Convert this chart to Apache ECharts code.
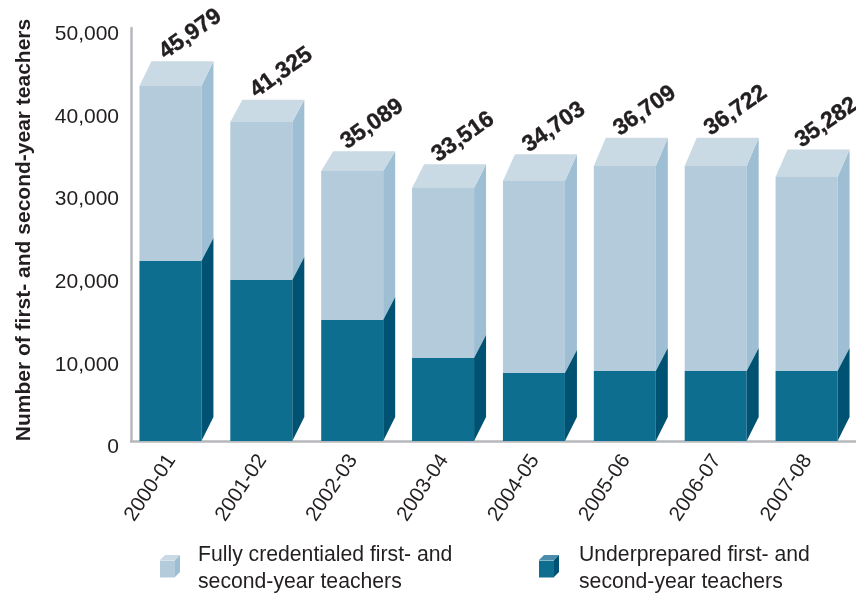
<!DOCTYPE html>
<html>
<head>
<meta charset="utf-8">
<style>
  html, body { margin: 0; padding: 0; background: #fff; }
  #chart { width: 856px; height: 595px; }
</style>
<script src="https://cdn.jsdelivr.net/npm/echarts@6/dist/echarts.min.js"></script>
</head>
<body>
<div id="chart"></div>
<script>
var years = ['2000-01', '2001-02', '2002-03', '2003-04', '2004-05', '2005-06', '2006-07', '2007-08'];
// printed totals, these sit on the back edge of each box
var totals = [45979, 41325, 35089, 33516, 34703, 36709, 36722, 35282];
// front face heights as read against the axis
var underprepared = [21800, 19500, 14650, 10050, 8230, 8470, 8470, 8470];
var credentialed = [21190, 19130, 18040, 20580, 23240, 24820, 24820, 23490];

var nameLight = 'Fully credentialed first- and\nsecond-year teachers';
var nameDark = 'Underprepared first- and\nsecond-year teachers';
var textColor = '#231f20';
var axisColor = '#b7b8bc';
var font = 'Liberation Sans';

var barW = 62, sideW = 12, depth = 23;

function poly(points, color) {
  return { type: 'polygon', shape: { points: points }, style: { fill: color } };
}

function renderLight(params, api) {
  var i = api.value(0);
  var cx = api.coord([i, 0])[0];
  var x0 = cx - (barW + sideW) / 2, x1 = x0 + barW, x2 = x1 + sideW;
  var yFrontBottom = api.coord([i, api.value(1)])[1];
  var yFrontTop = api.coord([i, api.value(2)])[1];
  var yBack = api.coord([i, api.value(3)])[1];
  return {
    type: 'group',
    children: [
      poly([[x0, yFrontTop], [x1, yFrontTop], [x1, yFrontBottom], [x0, yFrontBottom]], '#b3cbdb'),
      poly([[x1, yFrontTop], [x2, yBack], [x2, yFrontBottom - depth], [x1, yFrontBottom]], '#9ebed3'),
      poly([[x0, yFrontTop], [x0 + sideW, yBack], [x2, yBack], [x1, yFrontTop]], '#c9dae5'),
      {
        type: 'text',
        x: cx + 14,
        y: yBack - 27,
        rotation: 35 * Math.PI / 180,
        style: {
          text: api.value(3).toLocaleString('en-US'),
          font: 'bold 23px "' + font + '"',
          fill: textColor,
          stroke: textColor,
          lineWidth: 0.4,
          align: 'center',
          verticalAlign: 'middle'
        }
      }
    ]
  };
}

function renderDark(params, api) {
  var i = api.value(0);
  var cx = api.coord([i, 0])[0];
  var x0 = cx - (barW + sideW) / 2, x1 = x0 + barW, x2 = x1 + sideW;
  var yBottom = api.coord([i, 0])[1];
  var yTop = api.coord([i, api.value(1)])[1];
  return {
    type: 'group',
    children: [
      poly([[x0, yTop], [x1, yTop], [x1, yBottom], [x0, yBottom]], '#0d6e90'),
      poly([[x1, yTop], [x2, yTop - depth], [x2, yBottom - depth - 1], [x1, yBottom]], '#005272')
    ]
  };
}

var lightData = years.map(function (y, i) {
  return [i, underprepared[i], underprepared[i] + credentialed[i], totals[i]];
});
var darkData = years.map(function (y, i) {
  return [i, underprepared[i]];
});

function legendText(gap) {
  return { color: textColor, fontFamily: font, fontSize: 21.2, lineHeight: 27, padding: [0, 0, 0, gap] };
}

var chart = echarts.init(document.getElementById('chart'), null, { renderer: 'canvas' });
chart.setOption({
  animation: false,
  backgroundColor: '#fff',
  grid: { left: 131, top: 28, right: -2, bottom: 154, outerBoundsMode: 'none' },
  legend: [
    {
      data: [{ name: nameLight, icon: 'rect' }], left: 160, top: 542, padding: 0, itemWidth: 15, itemHeight: 17,
      selectedMode: false, textStyle: legendText(18)
    },
    {
      data: [{ name: nameDark, icon: 'rect' }], left: 539, top: 542, padding: 0, itemWidth: 15, itemHeight: 17,
      selectedMode: false, textStyle: legendText(20)
    }
  ],
  xAxis: {
    type: 'category',
    data: years,
    axisTick: { show: false },
    axisLine: { lineStyle: { color: axisColor, width: 2.5 } },
    axisLabel: {
      rotate: 56,
      margin: 19,
      color: textColor,
      fontFamily: font,
      fontSize: 20.5,
      interval: 0,
      // nudges the rotated labels a little left of the bar centre
      verticalAlign: 'bottom',
      lineHeight: 12
    }
  },
  yAxis: {
    type: 'value',
    min: 0,
    max: 50000,
    interval: 10000,
    name: 'Number of first- and second-year teachers',
    nameLocation: 'middle',
    nameGap: 96,
    nameRotate: 90,
    nameTextStyle: { color: textColor, fontFamily: font, fontSize: 21, fontWeight: 'bold', padding: [0, 0, 0, 9] },
    splitLine: { show: false },
    axisTick: { show: false },
    axisLine: { show: true, lineStyle: { color: axisColor, width: 2.5 } },
    axisLabel: {
      margin: 12,
      color: textColor,
      fontFamily: font,
      fontSize: 21,
      // the printed labels hang a few px under their tick
      verticalAlign: 'top',
      lineHeight: 13,
      formatter: function (v) { return v.toLocaleString('en-US'); }
    }
  },
  series: [
    {
      name: nameLight,
      type: 'custom',
      clip: false,
      itemStyle: { color: '#b3cbdb' },
      encode: { x: 0, y: 2 },
      data: lightData,
      renderItem: renderLight
    },
    {
      name: nameDark,
      type: 'custom',
      clip: false,
      itemStyle: { color: '#0d6e90' },
      encode: { x: 0, y: 1 },
      data: darkData,
      renderItem: renderDark
    }
  ],
  graphic: [
    // 3d faces on the legend swatches
    { type: 'polygon', shape: { points: [[160, 560], [165, 555], [180, 555], [175, 560]] }, style: { fill: '#c9dae5' } },
    { type: 'polygon', shape: { points: [[175, 560], [180, 555], [180, 572], [175, 577]] }, style: { fill: '#9ebed3' } },
    { type: 'polygon', shape: { points: [[539, 560], [544, 555], [559, 555], [554, 560]] }, style: { fill: '#4b8dab' } },
    { type: 'polygon', shape: { points: [[554, 560], [559, 555], [559, 572], [554, 577]] }, style: { fill: '#005272' } }
  ]
});
</script>
</body>
</html>
